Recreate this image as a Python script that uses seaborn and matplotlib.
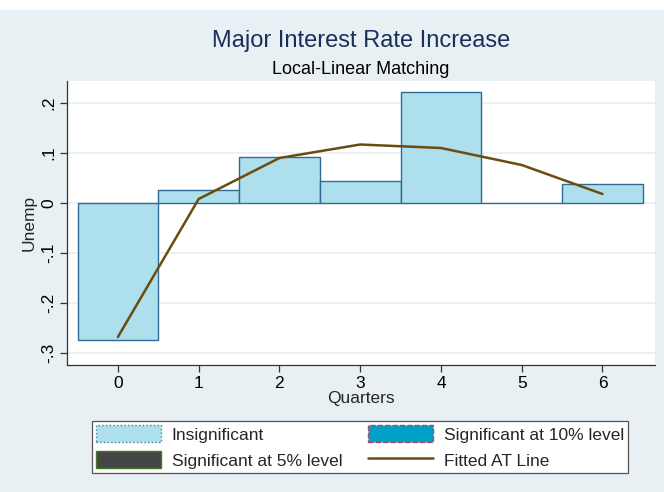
import matplotlib
matplotlib.use("Agg")
import matplotlib.pyplot as plt
from matplotlib.patches import Patch, Rectangle
from matplotlib.lines import Line2D
import seaborn as sns
import pandas as pd

# Estimated treatment effects by quarter
quarters = [0, 1, 2, 3, 4, 5, 6]
effects = [-0.273, 0.027, 0.092, 0.044, 0.222, 0.001, 0.038]
fitted = [-0.268, 0.008, 0.090, 0.117, 0.110, 0.076, 0.018]

y_ticks = [-0.3, -0.2, -0.1, 0.0, 0.1, 0.2]
y_tick_labels = ["-.3", "-.2", "-.1", "0", ".1", ".2"]
legend_labels = ["Insignificant", "Significant at 10% level",
                 "Significant at 5% level", "Fitted AT Line"]

BG = "#e8f0f3"
BAR_FILL = "#aedfec"
BAR_EDGE = "#2f6b93"
LINE = "#6b4c0f"

sns.set_theme(style="white")
plt.rcParams["font.family"] = ["Liberation Sans", "DejaVu Sans"]

df = pd.DataFrame({"Quarters": quarters, "Unemp": effects})
df_fit = pd.DataFrame({"Quarters": quarters, "Unemp": fitted})

W, H = 664, 492
fig = plt.figure(figsize=(W / 100, H / 100), dpi=100)
fig.patch.set_facecolor("white")
# graph region background (thin white strip at the top)
fig.add_artist(Rectangle((0, 0), 1, (H - 10) / H, transform=fig.transFigure,
                         facecolor=BG, edgecolor="none", zorder=-10))

left, right, top, bottom = 67, 655, 81, 365
ax = fig.add_axes([left / W, (H - bottom) / H, (right - left) / W, (bottom - top) / H])
ax.set_facecolor("white")

for t in y_ticks:
    ax.axhline(t, color=BG, lw=1.2, zorder=0)

sns.barplot(data=df, x="Quarters", y="Unemp", native_scale=True, width=1,
            color=BAR_FILL, saturation=1, edgecolor=BAR_EDGE, linewidth=1.0,
            ax=ax, zorder=2)
for p in ax.patches:
    p.set_facecolor(BAR_FILL)
    p.set_edgecolor(BAR_EDGE)

sns.lineplot(data=df_fit, x="Quarters", y="Unemp", color=LINE, lw=1.8,
             ax=ax, zorder=3)

ax.set_xlim(-0.63, 6.65)
ax.set_ylim(-0.324, 0.244)
ax.set_xticks(quarters)
ax.set_xticklabels([str(q) for q in quarters], fontsize=12.5)
ax.set_yticks(y_ticks)
ax.set_yticklabels(y_tick_labels, rotation=90, va="center", fontsize=12.5)
ax.tick_params(axis="both", direction="out", length=5, width=0.9,
               color="#333333", labelcolor="black", pad=3,
               bottom=True, left=True)

for side in ["top", "right"]:
    ax.spines[side].set_visible(False)
for side in ["left", "bottom"]:
    ax.spines[side].set_color("#333333")
    ax.spines[side].set_linewidth(0.9)

ax.set_xlabel("Quarters", fontsize=12.5, labelpad=0)
ax.set_ylabel("Unemp", fontsize=12.5, labelpad=3)

cx = ((left + right) / 2) / W
fig.text(cx, 1 - 41 / H, "Major Interest Rate Increase", ha="center",
         va="center", fontsize=17, color="#1a2f5c")
fig.text(cx, 1 - 70 / H, "Local-Linear Matching", ha="center",
         va="center", fontsize=13, color="black")

handles = [
    Patch(facecolor=BAR_FILL, edgecolor="#3a7fb0", linestyle=":", linewidth=1),
    Patch(facecolor="#00a0c8", edgecolor="#b04a5a", linestyle="--", linewidth=1),
    Patch(facecolor="#454545", edgecolor="#3f7a2a", linewidth=1),
    Line2D([0], [0], color=LINE, lw=1.8),
]
order = [0, 2, 1, 3]
leg = fig.legend([handles[i] for i in order], [legend_labels[i] for i in order],
                 ncol=2, loc="center", bbox_to_anchor=(360 / W, 1 - 447 / H),
                 fontsize=12.5, frameon=True, fancybox=False, framealpha=1,
                 edgecolor="#555555", handlelength=3.75, handleheight=1.1,
                 columnspacing=1.5, handletextpad=0.6, borderpad=0.25,
                 borderaxespad=0, labelspacing=0.5)
leg.get_frame().set_linewidth(0.9)

fig.savefig("out.png", dpi=100, facecolor=fig.get_facecolor())
